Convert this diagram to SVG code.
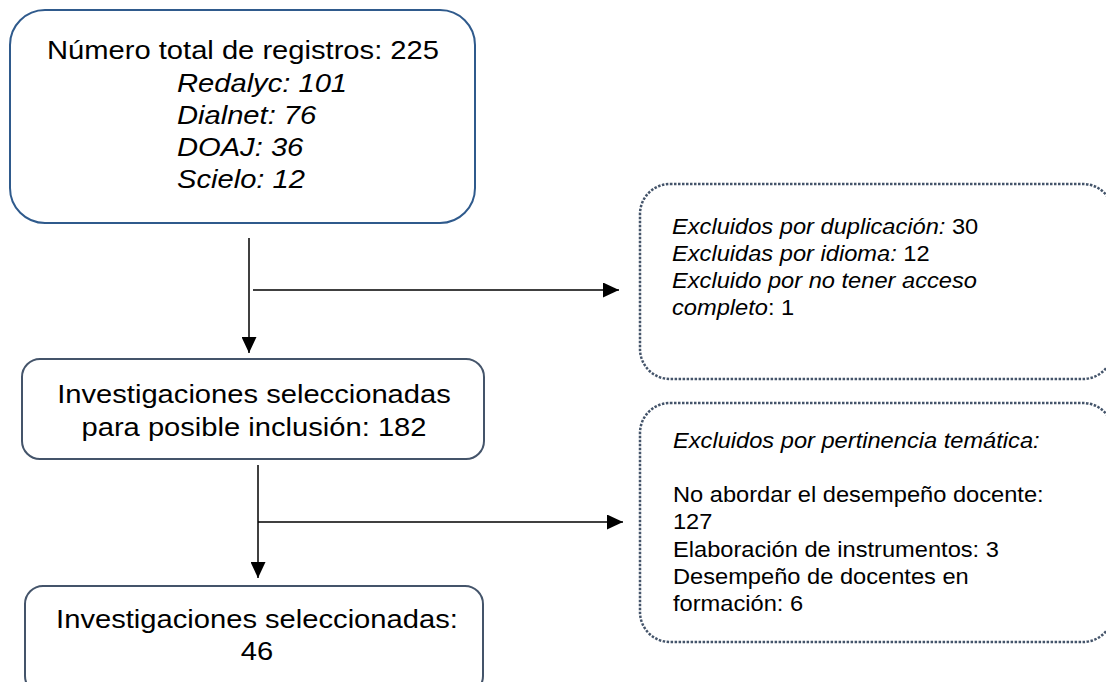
<svg xmlns="http://www.w3.org/2000/svg" width="1106" height="682" viewBox="0 0 1106 682">
<defs>
<marker id="arr" markerUnits="userSpaceOnUse" markerWidth="16" markerHeight="15" refX="16" refY="7.5" orient="auto">
<path d="M0,0 L16,7.5 L0,15 z" fill="#000"/>
</marker>
<style>
.solid{fill:#fff;stroke:#44546a;stroke-width:2}
.blue{fill:#fff;stroke:#2f5a8c;stroke-width:2}
.dot{fill:#fff;stroke:#44546a;stroke-width:2.5;stroke-dasharray:2.5 1.5}
.t{font-family:"Liberation Sans",Arial,sans-serif;fill:#000}
.big{font-size:26.5px}
.sm{font-size:21.5px}
.it{font-style:italic}
.mid{text-anchor:middle}
.conn{stroke:#000;stroke-width:1.5;fill:none}
</style>
</defs>
<rect width="1106" height="682" fill="#fff"/>

<g id="connectors">
<line class="conn" x1="249" y1="238" x2="249" y2="353" marker-end="url(#arr)"/>
<line class="conn" x1="253" y1="290" x2="619" y2="290" marker-end="url(#arr)"/>
<line class="conn" x1="258" y1="465" x2="258" y2="578" marker-end="url(#arr)"/>
<line class="conn" x1="258" y1="522" x2="623" y2="522" marker-end="url(#arr)"/>
</g>

<g id="total">
<rect class="blue" x="10" y="10" width="465" height="213" rx="35" ry="35"/>
<g transform="scale(1.1 1)">
<text class="t big mid" x="220.9" y="59">Número total de registros: 225</text>
<text class="t big it" x="160.9" y="92">Redalyc: 101</text>
<text class="t big it" x="160.9" y="124">Dialnet: 76</text>
<text class="t big it" x="160.9" y="156">DOAJ: 36</text>
<text class="t big it" x="160.9" y="188">Scielo: 12</text>
</g>
</g>

<g id="posible">
<rect class="solid" x="22" y="359" width="462" height="100" rx="18" ry="18"/>
<g transform="scale(1.1 1)">
<text class="t big mid" x="230.9" y="403">Investigaciones seleccionadas</text>
<text class="t big mid" x="230.9" y="436">para posible inclusión: 182</text>
</g>
</g>

<g id="seleccionadas">
<rect class="solid" x="25" y="586" width="458" height="108" rx="18" ry="18"/>
<g transform="scale(1.1 1)">
<text class="t big mid" x="233.6" y="628">Investigaciones seleccionadas:</text>
<text class="t big mid" x="233.6" y="660">46</text>
</g>
</g>

<g id="excluidos1">
<rect class="dot" x="640" y="184" width="473" height="195" rx="30" ry="30"/>
<g transform="scale(1.1 1)">
<text class="t sm" x="610.9" y="234"><tspan class="it">Excluidos por duplicación:</tspan> 30</text>
<text class="t sm" x="610.9" y="261"><tspan class="it">Excluidas por idioma:</tspan> 12</text>
<text class="t sm it" x="610.9" y="288">Excluido por no tener acceso</text>
<text class="t sm" x="610.9" y="315"><tspan class="it">completo</tspan>: 1</text>
</g>
</g>

<g id="excluidos2">
<rect class="dot" x="640" y="403" width="473" height="239" rx="30" ry="30"/>
<g transform="scale(1.1 1)">
<text class="t sm it" x="611.8" y="448">Excluidos por pertinencia temática:</text>
<text class="t sm" x="611.8" y="502">No abordar el desempeño docente:</text>
<text class="t sm" x="611.8" y="529">127</text>
<text class="t sm" x="611.8" y="557">Elaboración de instrumentos: 3</text>
<text class="t sm" x="611.8" y="584">Desempeño de docentes en</text>
<text class="t sm" x="611.8" y="611">formación: 6</text>
</g>
</g>
</svg>
